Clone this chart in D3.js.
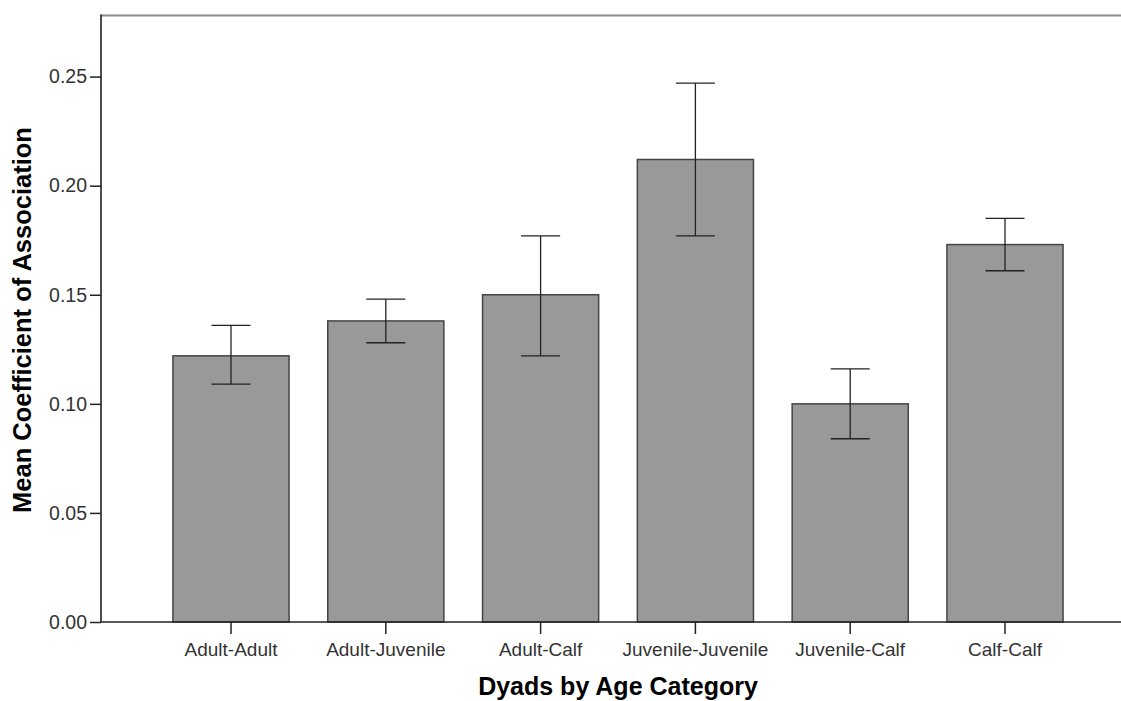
<!DOCTYPE html>
<html>
<head>
<meta charset="utf-8">
<script src="https://cdn.jsdelivr.net/npm/d3@7"></script>
<style>
  html, body { margin: 0; padding: 0; background: #fff; }
  svg { display: block; font-family: "Liberation Sans", Arial, sans-serif; }
</style>
</head>
<body>
<svg id="chart" width="1121" height="701"></svg>
<script>
// Mean coefficient of association by dyad age category, with error bars
const categories = ["Adult-Adult", "Adult-Juvenile", "Adult-Calf", "Juvenile-Juvenile", "Juvenile-Calf", "Calf-Calf"];
const meanValues = [0.122, 0.138, 0.150, 0.212, 0.100, 0.173];
const upperValues = [0.136, 0.148, 0.177, 0.247, 0.116, 0.185];
const lowerValues = [0.109, 0.128, 0.122, 0.177, 0.084, 0.161];
const yTickValues = [0.00, 0.05, 0.10, 0.15, 0.20, 0.25];

const rows = categories.map((c, i) => ({
  category: c, mean: meanValues[i], upper: upperValues[i], lower: lowerValues[i]
}));

const svg = d3.select("#chart");
const plotLeft = 101, plotRight = 1121, plotTop = 15.5, plotBottom = 622;

const x = d3.scaleBand()
  .domain(categories)
  .range([153.6, 1082.4])
  .paddingInner(0.25)
  .paddingOuter(0.125);

const y = d3.scaleLinear()
  .domain([0, 0.278])
  .range([plotBottom, plotTop]);

// top frame line
svg.append("line")
  .attr("x1", plotLeft).attr("x2", plotRight)
  .attr("y1", plotTop).attr("y2", plotTop)
  .attr("stroke", "#8a8a8a").attr("stroke-width", 2);

// bars
svg.append("g").selectAll("rect")
  .data(rows)
  .join("rect")
  .attr("x", d => x(d.category))
  .attr("width", x.bandwidth())
  .attr("y", d => y(d.mean))
  .attr("height", d => y(0) - y(d.mean))
  .attr("fill", "#999999")
  .attr("stroke", "#444")
  .attr("stroke-width", 1.5);

// error bars
const capHalf = 19.5;
const err = svg.append("g").attr("stroke", "#222").attr("stroke-width", 1.3);
rows.forEach(d => {
  const cx = x(d.category) + x.bandwidth() / 2;
  err.append("line").attr("x1", cx).attr("x2", cx).attr("y1", y(d.upper)).attr("y2", y(d.lower));
  err.append("line").attr("x1", cx - capHalf).attr("x2", cx + capHalf).attr("y1", y(d.upper)).attr("y2", y(d.upper));
  err.append("line").attr("x1", cx - capHalf).attr("x2", cx + capHalf).attr("y1", y(d.lower)).attr("y2", y(d.lower));
});

// y axis
const yAxis = svg.append("g")
  .attr("transform", `translate(${plotLeft},0)`)
  .call(d3.axisLeft(y).tickValues(yTickValues).tickFormat(d3.format(".2f")).tickSize(11).tickPadding(3));
yAxis.select(".domain").remove();
yAxis.selectAll(".tick line").attr("stroke", "#222").attr("stroke-width", 1.5);
yAxis.selectAll(".tick text").attr("fill", "#333").style("font-size", "19.5px")
  .style("font-family", "'Liberation Sans', Arial, sans-serif");

// x axis
const xAxis = svg.append("g")
  .attr("transform", `translate(0,${plotBottom})`)
  .call(d3.axisBottom(x).tickSize(12).tickPadding(9));
xAxis.select(".domain").remove();
xAxis.selectAll(".tick line").attr("stroke", "#222").attr("stroke-width", 1.5);
xAxis.selectAll(".tick text").attr("fill", "#333").style("font-size", "19px")
  .style("font-family", "'Liberation Sans', Arial, sans-serif");

// axis lines
svg.append("line")
  .attr("x1", plotLeft).attr("x2", plotLeft)
  .attr("y1", plotTop - 1).attr("y2", plotBottom)
  .attr("stroke", "#222").attr("stroke-width", 1.6);
svg.append("line")
  .attr("x1", plotLeft).attr("x2", plotRight)
  .attr("y1", plotBottom).attr("y2", plotBottom)
  .attr("stroke", "#222").attr("stroke-width", 1.6);

// axis titles
svg.append("text")
  .attr("x", 618).attr("y", 695)
  .attr("text-anchor", "middle")
  .attr("font-weight", "bold").attr("font-size", "25px").attr("fill", "#000")
  .text("Dyads by Age Category");

svg.append("text")
  .attr("transform", "translate(31,320) rotate(-90)")
  .attr("text-anchor", "middle")
  .attr("font-weight", "bold").attr("font-size", "25.5px").attr("fill", "#000")
  .text("Mean Coefficient of Association");
</script>
</body>
</html>
